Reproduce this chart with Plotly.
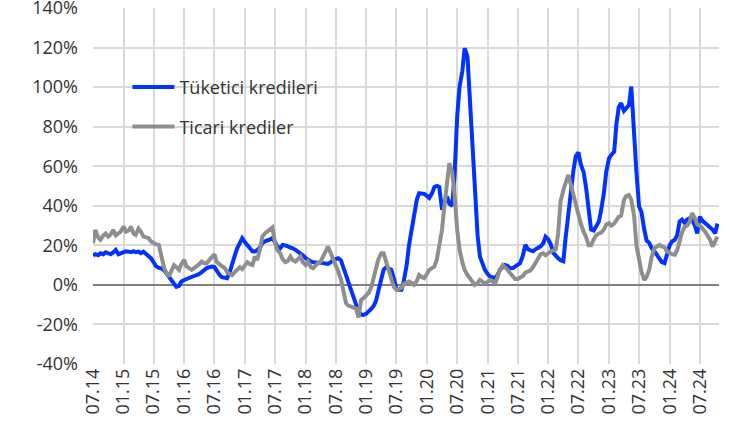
import pandas as pd
import plotly.graph_objects as go

# Semi-monthly observation dates (1st and 15th), Jul 2014 - Oct 2024
dates = pd.date_range("2014-07-01", "2024-10-15", freq="SMS")

# Tüketici kredileri (%), 12 values per 6 months
tuketici = [
    14.8, 15.5, 15, 16, 15.5, 16.5, 16, 15.5, 16.5, 17.7, 15.5, 16,
    16.5, 17, 16.8, 16.5, 17, 16.5, 16.8, 16, 16.8, 15.5, 14.5, 13.5,
    11, 9.5, 8.6, 8.5, 7.5, 6, 4.5, 2.5, 0.5, -1, -0.5, 1.7,
    2.5, 3, 4, 4.5, 4.5, 5, 5.5, 6.5, 7.5, 8.5, 9, 9.3,
    9, 7, 5, 3.9, 3.5, 3.4, 6.5, 11, 15, 18.5, 21, 23.6,
    21.5, 20, 18.5, 17, 16.9, 17.5, 19, 21.1, 22, 22.7, 23, 23.6,
    21, 19.5, 18.5, 20.2, 20, 19.5, 19.4, 18.5, 17.7, 17, 16, 15,
    13.5, 12.5, 11.8, 11.5, 11.5, 11, 11, 11, 10.8, 10.6, 11.5, 12.7,
    13, 13.5, 12.5, 9, 5, 0.8, -3.5, -7, -10.5, -13.5, -15, -15.2,
    -14.5, -13.5, -12, -10.5, -8, -3, 3, 7.6, 8.9, 8.5, 7.6, 3.4,
    -1.7, -2.5, -2.5, 2, 10, 20, 27.8, 36, 43, 46.4, 46.4, 46,
    45, 44, 46.4, 49.5, 50, 49.5, 38, 42, 44.6, 41, 40, 55,
    85, 100, 108, 119.7, 115.4, 95, 70, 48, 25, 14.3, 10, 7.6,
    5.5, 4.2, 3.8, 3.4, 5, 7.6, 9, 10, 9.5, 8.4, 8.5, 9.3,
    10, 11, 15, 20.2, 18, 17.5, 17, 18, 18.8, 19.5, 21, 24.4,
    23, 20.5, 16, 14.5, 13.5, 12.5, 12, 24, 36.3, 47, 58, 65,
    67, 61, 57, 49.7, 38, 28, 27.5, 30, 32, 38, 46.4, 57,
    64, 65.7, 67.4, 81.7, 90, 91.9, 88, 89.3, 91, 100.3, 72, 57,
    39.6, 37, 28, 22.5, 21.1, 18.5, 17, 15.5, 13, 11.5, 11, 16,
    20, 22, 22.8, 25, 32, 33, 31.2, 33, 33.7, 33, 30, 26,
    34.5, 32.5, 31.2, 30.5, 29.5, 28, 26.1, 31,
]

# Ticari krediler (%)
ticari = [
    21, 27.8, 24, 22.8, 25, 26, 24.4, 25.5, 27.8, 25, 26, 27,
    29.5, 26.9, 27.5, 29.5, 26, 25.3, 28.5, 27, 24.4, 24, 23.6, 22,
    21, 20.5, 20.2, 14, 9, 6, 4.2, 7, 10, 9, 7.6, 10.5,
    12.6, 9.3, 8.5, 7.6, 8.5, 9.3, 10.5, 11.8, 11, 11, 12.6, 14,
    15.5, 11.5, 10, 9.5, 8.5, 6.5, 5.5, 5, 6.5, 8, 9, 8,
    10, 11.5, 10.5, 10, 14.3, 12.6, 18, 24.4, 26, 27, 28.5, 29,
    21, 17.5, 16, 13, 11.5, 12, 14.3, 12.5, 11.8, 13, 14.3, 11.5,
    10, 11.8, 9, 8.5, 10, 11, 11.8, 14, 16.9, 19.4, 16, 13.5,
    10.5, 7, 3, -1.7, -9.3, -10.5, -11, -11.5, -12, -16.5, -7.6, -6.7,
    -5.2, -4, -1, 3, 8.5, 13, 16, 16, 12, 7, 3, -0.8,
    -2.5, -2, -1.5, 0.5, 1, 1.7, 1, 0, 2, 5, 4, 3.4,
    5.5, 7.6, 8.5, 9.3, 13, 19, 28, 40, 54, 61.5, 57, 46,
    28, 18, 11.5, 7.6, 5, 3.4, 1.5, 0, 1, 2.5, 1.5, 0.8,
    1.5, 2.5, 1.5, 0.8, 4, 7.6, 10, 9, 7.6, 6, 4.2, 3,
    3, 3.5, 4.5, 6.2, 6.7, 7.3, 9, 11, 13, 15.5, 16, 15,
    16, 17, 17.5, 18, 26.1, 42, 48, 52, 55.6, 51, 45, 40,
    36.3, 31, 27, 24.4, 20, 20, 23, 25, 26, 26.5, 28, 30.5,
    31.2, 30, 31, 32.9, 34.5, 35, 43, 45, 45.5, 43, 35, 20,
    12, 6.7, 2.5, 4, 8, 14.3, 18.5, 19.5, 20.2, 19.5, 19, 17,
    16, 15.5, 15.2, 17.5, 22, 26.5, 29.5, 30, 32, 36.3, 33.7, 30.5,
    30, 28.7, 27, 25, 22.8, 19.4, 22, 24.4,
]

y_ticks = [-40, -20, 0, 20, 40, 60, 80, 100, 120, 140]
y_tick_labels = ["-40%", "-20%", "0%", "20%", "40%", "60%", "80%", "100%", "120%", "140%"]

FONT = "Open Sans"
TXT = "#333333"

fig = go.Figure()
fig.add_trace(go.Scatter(x=dates, y=tuketici, mode="lines", name="Tüketici kredileri",
                         line=dict(color="#0033FF", width=4), legendgroup="a"))
fig.add_trace(go.Scatter(x=dates, y=ticari, mode="lines", name="Ticari krediler",
                         line=dict(color="#8E8E8E", width=4), legendgroup="b"))

fig.update_layout(
    width=736, height=438,
    margin=dict(l=93, r=17, t=8, b=74),
    paper_bgcolor="white", plot_bgcolor="white",
    font=dict(family=FONT, size=18, color=TXT),
    showlegend=True,
    legend=dict(x=0.055, y=0.829, xanchor="left", yanchor="top",
                bgcolor="rgba(0,0,0,0)", font=dict(size=18, color=TXT),
                tracegroupgap=13, itemwidth=42, traceorder="grouped"),
)
fig.update_xaxes(
    type="date", range=["2014-07-01", "2024-10-24"],
    tick0="2014-07-01", dtick="M6", tickformat="%m.%y", tickangle=-90,
    showgrid=True, gridcolor="#D9D9D9", gridwidth=1.5,
    showline=False, zeroline=False, ticks="", automargin=False,
    tickfont=dict(family=FONT, size=18, color=TXT),
)
fig.update_yaxes(
    range=[-40, 140], tickmode="array", tickvals=y_ticks, ticktext=y_tick_labels,
    showgrid=True, gridcolor="#D9D9D9", gridwidth=1.5,
    zeroline=True, zerolinecolor="#7F7F7F", zerolinewidth=1.5,
    showline=False, ticks="", ticklabelstandoff=14, ticklabeloverflow="allow",
    automargin=False,
    tickfont=dict(family=FONT, size=18, color=TXT),
)

fig.write_html("out.html", config={"displayModeBar": False},
               post_script="document.body.style.margin='0';")
